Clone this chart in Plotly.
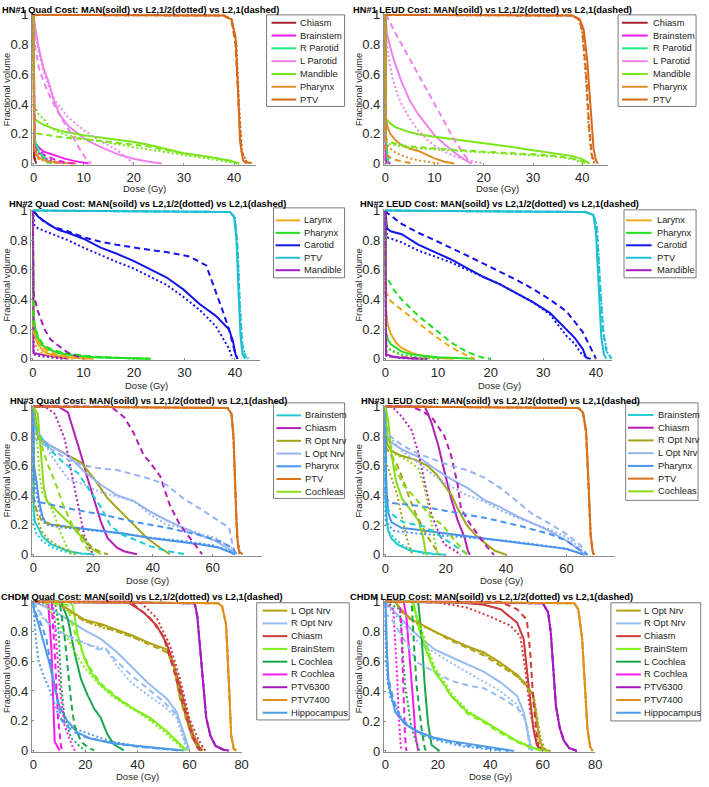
import plotly.graph_objects as go

# ---------------------------------------------------------------- data
# Each panel: structure -> {"solid": MAN, "dot": L2,1/2, "dash": L2,1} as (dose Gy, fractional volume)
HN1_QUAD = {
    "Chiasm": {"solid": [(0,1),(0.1,0.05),(0.5,0)], "dot": [(0,1),(0.1,0.04),(0.5,0)], "dash": [(0,1),(0.1,0.04),(0.5,0)]},
    "Brainstem": {"solid": [(0,1),(0.2,0.14),(1,0.11),(2,0.08),(4.3,0.055),(6,0.035),(8,0.018),(11,0)],
                  "dot": [(0,1),(0.2,0.1),(1,0.07),(2,0.04),(4,0.015),(6,0)],
                  "dash": [(0,1),(0.2,0.12),(1,0.09),(2,0.06),(4,0.03),(6,0.01),(8,0)]},
    "R Parotid": {"solid": [(0,1),(0.1,0.2),(0.5,0.12),(1,0.08),(2,0.04),(3,0.01),(3.5,0)],
                  "dot": [(0,1),(0.1,0.15),(1,0.1),(2,0.05),(3,0.015),(3.5,0)],
                  "dash": [(0,1),(0.1,0.18),(1,0.09),(2,0.04),(3,0)]},
    "L Parotid": {"solid": [(0,1),(0.3,0.92),(1,0.78),(2,0.64),(3,0.55),(4,0.43),(5.2,0.33),(7,0.25),(8.9,0.2),(11,0.15),(13.4,0.11),(17,0.06),(20,0.033),(23,0.012),(25.6,0)],
                  "dot": [(0,1),(0.3,0.88),(1,0.75),(2,0.62),(3,0.52),(4.3,0.42),(6.9,0.31),(10.2,0.22),(13.4,0.15),(16.7,0.09),(18.5,0.04),(20,0)],
                  "dash": [(0,1),(0.3,0.78),(1,0.65),(2,0.55),(3,0.47),(4.3,0.38),(6,0.28),(7.5,0.2),(9,0.11),(10.5,0.03),(11.5,0)]},
    "Mandible": {"solid": [(0,1),(0.1,0.3),(1,0.28),(2,0.26),(4,0.235),(6,0.215),(10,0.19),(15,0.17),(20,0.145),(22.5,0.13),(25,0.11),(30,0.07),(35,0.045),(39,0.02),(40.5,0.005),(41,0)],
                 "dot": [(0,1),(0.1,0.41),(0.5,0.37),(1,0.33),(2.3,0.29),(3,0.25),(5,0.21),(6.9,0.19),(10,0.165),(13.4,0.15),(20,0.11),(25,0.085),(30,0.055),(35,0.035),(40,0.01),(41,0)],
                 "dash": [(0,1),(0.1,0.21),(1,0.2),(3,0.19),(6,0.175),(10,0.165),(15,0.148),(20,0.127),(23,0.115),(25,0.1),(30,0.068),(35,0.045),(39,0.02),(40.5,0.005),(41,0)]},
    "Pharynx": {"solid": [(0,1),(0.15,0.1),(1,0.04),(3,0.015),(6,0.005),(8.5,0)],
                "dot": [(0,1),(0.15,0.08),(1,0.03),(3,0.01),(5,0)],
                "dash": [(0,1),(0.15,0.09),(1,0.035),(3,0.012),(6,0)]},
    "PTV": {"solid": [(0,1),(38,0.995),(39.5,0.97),(40.3,0.85),(40.8,0.5),(41.2,0.15),(41.8,0.02),(42.5,0)],
            "dot": [(0,1),(38,0.995),(39.5,0.97),(40.5,0.8),(41,0.4),(41.6,0.08),(42.5,0.01),(44,0)],
            "dash": [(0,1),(38,0.995),(39.5,0.96),(40.3,0.8),(40.9,0.4),(41.5,0.08),(42.5,0.01),(43.5,0)]},
}

HN1_LEUD = {
    "Chiasm": {"solid": [(0,1),(0.1,0.02),(0.3,0)], "dot": [(0,1),(0.1,0.02),(0.3,0)], "dash": [(0,1),(0.1,0.02),(0.3,0)]},
    "Brainstem": {"solid": [(0,1),(0.1,0.03),(0.5,0.01),(1,0)], "dot": [(0,1),(0.1,0.02),(1,0)], "dash": [(0,1),(0.1,0.02),(1,0)]},
    "R Parotid": {"solid": [(0,1),(0.1,0.21),(0.3,0.1),(0.6,0)], "dot": [(0,1),(0.1,0.15),(0.5,0)], "dash": [(0,1),(0.1,0.18),(0.5,0)]},
    "L Parotid": {"solid": [(0,1),(0.3,0.88),(1,0.78),(2,0.67),(3.3,0.55),(5,0.42),(6.7,0.33),(8.5,0.25),(10,0.19),(12,0.13),(13.4,0.09),(15,0.05),(16.7,0.015),(17.5,0)],
                  "dot": [(0,1),(0.3,0.8),(0.8,0.68),(1.5,0.57),(2.5,0.46),(3.3,0.4),(5,0.3),(6.7,0.22),(8.5,0.16),(10,0.12),(12,0.08),(14,0.05),(17,0.02),(20,0)],
                  "dash": [(0,1),(0.3,0.99),(2,0.88),(4,0.76),(6,0.65),(8,0.52),(10,0.4),(12,0.28),(14,0.16),(16,0.06),(17.5,0)]},
    "Mandible": {"solid": [(0,1),(0.1,0.3),(1,0.27),(2,0.245),(5,0.21),(7,0.195),(10,0.18),(15,0.16),(20,0.14),(25,0.115),(30,0.09),(35,0.065),(38,0.05),(40,0.03),(41,0.008),(41.5,0)],
                 "dot": [(0,1),(0.1,0.15),(1,0.13),(3,0.115),(5,0.105),(10,0.095),(15,0.085),(20,0.075),(25,0.068),(30,0.058),(35,0.045),(38,0.03),(40,0.01),(40.5,0)],
                 "dash": [(0,1),(0.1,0.17),(1,0.145),(3,0.125),(5,0.115),(10,0.1),(15,0.09),(20,0.08),(25,0.072),(30,0.062),(35,0.05),(38,0.035),(40,0.015),(41,0)]},
    "Pharynx": {"solid": [(0,1),(0.15,0.29),(0.5,0.24),(1,0.2),(2,0.16),(3,0.13),(5,0.1),(6.7,0.085),(8,0.065),(10,0.035),(12,0.012),(14,0)],
                "dot": [(0,1),(0.15,0.15),(0.7,0.11),(2,0.075),(3.3,0.055),(5,0.035),(7,0.02),(10,0.003),(11,0)],
                "dash": [(0,1),(0.15,0.06),(1,0.04),(2,0.025),(4,0.01),(6,0)]},
    "PTV": {"solid": [(0,1),(38,0.995),(39.5,0.97),(40.3,0.9),(41,0.7),(41.8,0.3),(42.3,0.1),(42.8,0.02),(43.2,0)],
            "dot": [(0,1),(38,0.995),(39.3,0.97),(40,0.88),(40.7,0.6),(41.3,0.25),(41.9,0.05),(42.5,0)],
            "dash": [(0,1),(38,0.995),(39.3,0.97),(40,0.9),(40.8,0.6),(41.4,0.25),(42,0.05),(42.6,0)]},
}

HN2_QUAD = {
    "Larynx": {"solid": [(0,1),(0.1,0.22),(0.5,0.14),(1,0.1),(2,0.055),(3,0.035),(5,0.02),(8,0.008),(12,0)],
               "dot": [(0,1),(0.1,0.12),(1,0.06),(2,0.035),(4,0.015),(8,0)],
               "dash": [(0,1),(0.1,0.18),(1,0.12),(2,0.08),(3,0.05),(5,0.025),(8,0.01),(11,0)]},
    "Pharynx": {"solid": [(0,1),(0.1,0.3),(0.5,0.2),(1,0.14),(2,0.09),(3,0.065),(5,0.04),(8,0.022),(12,0.01),(18,0.003),(23,0)],
                "dot": [(0,1),(0.1,0.26),(1,0.12),(2,0.08),(4,0.05),(7,0.03),(12,0.012),(18,0.004),(23,0)],
                "dash": [(0,1),(0.1,0.25),(1,0.15),(2,0.1),(3,0.075),(5,0.05),(8,0.03),(12,0.015),(18,0.005),(24,0)]},
    "Carotid": {"solid": [(0,1),(1,0.96),(3,0.91),(5,0.87),(6.9,0.85),(10,0.81),(13.4,0.75),(16.5,0.71),(19.9,0.66),(23,0.61),(26.4,0.55),(29.7,0.47),(33,0.37),(36.2,0.29),(38.8,0.2),(39.6,0.12),(40.1,0.03),(40.5,0)],
                "dot": [(0,1),(0.3,0.9),(1,0.88),(3.3,0.85),(6.9,0.8),(10,0.75),(13.4,0.7),(16.5,0.655),(19.9,0.61),(23,0.56),(26.4,0.5),(29.7,0.42),(33,0.33),(36.2,0.22),(38.8,0.07),(39.5,0)],
                "dash": [(0,1),(0.3,0.99),(2,0.93),(4,0.89),(6.9,0.86),(10,0.82),(13.4,0.79),(16.5,0.77),(19.9,0.75),(23,0.735),(26.4,0.72),(31,0.69),(34.3,0.63),(36.2,0.46),(37.5,0.33),(38.8,0.2),(40.1,0.03),(40.5,0)]},
    "PTV": {"solid": [(0,1),(39,0.99),(39.8,0.96),(40.3,0.8),(40.7,0.45),(41.1,0.15),(41.5,0.03),(42,0)],
            "dot": [(0,1),(39,0.99),(40,0.95),(40.6,0.7),(41,0.35),(41.5,0.1),(42,0.02),(42.7,0)],
            "dash": [(0,1),(39,0.99),(40,0.95),(40.5,0.75),(40.9,0.4),(41.4,0.1),(42,0.02),(42.5,0)]},
    "Mandible": {"solid": [(0,1),(0.1,0.04),(3,0.02),(5,0.01),(7,0)],
                 "dot": [(0,1),(0.15,0.03),(1,0.02),(3,0.01),(6,0)],
                 "dash": [(0,1),(0.1,0.45),(0.4,0.4),(1,0.32),(2.3,0.2),(3.5,0.13),(5,0.09),(7,0.04),(10,0)]},
}

HN2_LEUD = {
    "Larynx": {"solid": [(0,1),(0.1,0.35),(0.4,0.24),(1,0.17),(2,0.11),(3,0.075),(5,0.04),(7,0.02),(10,0.006),(13,0)],
               "dot": [(0,1),(0.1,0.1),(1,0.055),(3,0.025),(6,0.005),(8,0)],
               "dash": [(0,1),(0.1,0.45),(0.3,0.44),(1,0.39),(3.1,0.33),(6.25,0.24),(9.4,0.155),(12.5,0.077),(15.6,0.02),(17,0)]},
    "Pharynx": {"solid": [(0,1),(0.1,0.18),(0.5,0.13),(1,0.1),(3,0.05),(5,0.03),(10,0.01),(15,0.002),(17,0)],
                "dot": [(0,1),(0.1,0.09),(1,0.06),(3,0.03),(6,0.01),(10,0)],
                "dash": [(0,1),(0.1,0.56),(0.3,0.55),(1.5,0.47),(3.1,0.4),(6.25,0.29),(9.4,0.2),(12.5,0.11),(15.6,0.044),(18.75,0.005),(20,0)]},
    "Carotid": {"solid": [(0,1),(0.3,0.88),(1,0.86),(3.1,0.84),(6.25,0.77),(9.4,0.72),(12.5,0.67),(15.6,0.61),(18.75,0.55),(21.9,0.5),(25,0.44),(28.1,0.38),(31.25,0.31),(34.4,0.2),(36,0.14),(37.5,0.066),(38.1,0.01),(39,0)],
                "dot": [(0,1),(0.3,0.82),(3.1,0.785),(6.25,0.73),(9.4,0.69),(12.5,0.65),(15.6,0.6),(18.75,0.55),(21.9,0.5),(25,0.44),(28.1,0.38),(31.25,0.3),(34.4,0.155),(36,0.1),(37,0.044),(38.5,0)],
                "dash": [(0,1),(0.3,0.985),(3.1,0.91),(6.25,0.85),(9.4,0.8),(12.5,0.75),(15.6,0.695),(18.75,0.64),(21.9,0.585),(25,0.53),(28.1,0.47),(31.25,0.4),(34.4,0.32),(37.5,0.18),(39.4,0.045),(40,0)]},
    "PTV": {"solid": [(0,1),(38,0.99),(39.5,0.97),(40,0.85),(40.5,0.5),(41,0.15),(41.5,0.03),(42,0)],
            "dot": [(0,1),(38,0.99),(39.5,0.97),(40.2,0.9),(40.8,0.5),(41.5,0.15),(42.2,0.04),(43,0)],
            "dash": [(0,1),(38,0.99),(39.5,0.97),(40.1,0.9),(40.7,0.55),(41.3,0.2),(42,0.05),(43,0)]},
    "Mandible": {"solid": [(0,1),(0.15,0.03),(1,0.02),(2,0.01),(5,0.003),(8,0)],
                 "dot": [(0,1),(0.15,0.02),(1,0.015),(3,0.005),(8,0)],
                 "dash": [(0,1),(0.15,0.025),(1,0.015),(4,0.005),(7,0)]},
}

HN3_QUAD = {
    "Brainstem": {"solid": [(0,1),(0.1,0.3),(0.5,0.22),(1.65,0.18),(3,0.12),(6,0.067),(11.6,0.022),(16,0.005),(20,0)],
                  "dot": [(0,1),(0.1,0.2),(1,0.14),(3,0.09),(6,0.05),(10,0.02),(14,0)],
                  "dash": [(0,1),(0.1,0.9),(1,0.85),(3,0.78),(6,0.7),(10,0.62),(14.9,0.55),(18.7,0.44),(22.6,0.32),(25.9,0.19),(30,0.13),(35,0.09),(39,0.055),(45,0.02),(51,0)]},
    "Chiasm": {"solid": [(0,1),(8.3,1),(11.6,0.96),(13.8,0.82),(16,0.67),(18.2,0.51),(20.4,0.36),(22.6,0.22),(24.8,0.11),(28,0.044),(30.3,0.02),(34.7,0)],
               "dot": [(0,1),(3.9,1),(7.2,0.95),(10.5,0.78),(12.7,0.56),(14.9,0.33),(17,0.13),(19.3,0.02),(20.5,0)],
               "dash": [(0,1),(25.9,1),(30.3,0.93),(33.6,0.82),(36.9,0.67),(39.1,0.62),(42.4,0.53),(45.7,0.33),(49,0.2),(52.3,0.11),(55.6,0.02),(56.5,0)]},
    "R Opt Nrv": {"solid": [(0,1),(0.5,0.95),(1.65,0.78),(6,0.73),(11.6,0.67),(16,0.62),(20.4,0.51),(24.8,0.38),(29.2,0.29),(33.6,0.2),(38,0.11),(42.4,0.044),(45.7,0)],
                  "dot": [(0,1),(0.1,0.35),(1,0.3),(2,0.2),(3,0.15),(5,0.1),(8,0.06),(12,0.02),(15,0)],
                  "dash": [(0,1),(0.1,0.38),(1,0.3),(3,0.22),(6,0.2),(10,0.19),(14.9,0.17),(18,0.08),(20,0.04),(23,0.01),(25,0)]},
    "L Opt Nrv": {"solid": [(0,1),(0.5,0.82),(6,0.73),(11.6,0.67),(17,0.56),(22.6,0.47),(28,0.4),(33.6,0.36),(39,0.29),(44.6,0.23),(50,0.18),(55.6,0.13),(61,0.09),(66.6,0.02),(67.5,0)],
                  "dot": [(0,1),(0.5,0.87),(6,0.67),(11.6,0.51),(17,0.47),(22.6,0.42),(33.6,0.36),(39,0.27),(44.6,0.2),(50,0.18),(55.6,0.14),(61,0.11),(66.6,0.04),(67.5,0)],
                  "dash": [(0,1),(0.5,0.78),(6,0.71),(11.6,0.64),(17,0.6),(22.6,0.58),(28,0.57),(33.6,0.54),(39,0.51),(44.6,0.47),(50,0.38),(55.6,0.31),(61,0.24),(65.5,0.18),(66.6,0.07),(67.5,0)]},
    "Pharynx": {"solid": [(0,1),(0.1,0.62),(1,0.5),(2,0.35),(3,0.26),(3.9,0.22),(6,0.2),(10,0.19),(22.6,0.16),(30,0.14),(39,0.11),(47,0.09),(55.6,0.067),(62,0.045),(66.6,0.01),(67.5,0)],
                "dot": [(0,1),(0.1,0.55),(1,0.42),(2,0.3),(4,0.2),(10,0.18),(20,0.16),(30,0.14),(40,0.11),(50,0.09),(60,0.06),(66,0.02),(67,0)],
                "dash": [(0,1),(0.1,0.37),(0.5,0.36),(11.6,0.31),(22.6,0.27),(33.6,0.22),(44.6,0.18),(55.6,0.13),(62,0.09),(66.6,0.044),(68,0)]},
    "PTV": {"solid": [(0,1),(65,0.99),(66.3,0.95),(67,0.8),(67.5,0.5),(68,0.2),(68.5,0.05),(69,0)],
            "dot": [(0,1),(65,0.99),(66.3,0.95),(67,0.75),(67.6,0.4),(68.3,0.1),(69,0.02),(70,0)],
            "dash": [(0,1),(65,0.99),(66.3,0.95),(67,0.77),(67.6,0.42),(68.2,0.1),(69,0.02),(69.8,0)]},
    "Cochleas": {"solid": [(0,1),(1.5,0.95),(2.5,0.7),(3.5,0.45),(4.5,0.36),(7,0.31),(10,0.25),(13,0.19),(16,0.12),(18,0.07),(20,0.03),(22.6,0)],
                 "dot": [(0,1),(1,0.88),(2,0.55),(3,0.42),(5,0.35),(7,0.27),(9,0.15),(11,0.06),(12.7,0)],
                 "dash": [(0,1),(1,0.9),(3,0.72),(5,0.6),(8,0.45),(10,0.33),(13,0.2),(16,0.1),(18,0.04),(19.3,0)]},
}

HN3_LEUD = {
    "Brainstem": {"solid": [(0,1),(0.1,0.35),(0.5,0.22),(1,0.16),(2,0.11),(4,0.07),(8,0.03),(12,0.015),(16,0.005),(20,0)],
                  "dot": [(0,1),(0.1,0.22),(1,0.16),(3,0.11),(6,0.06),(10,0.025),(14,0)],
                  "dash": [(0,1),(0.1,0.33),(1,0.3),(3,0.26),(6,0.22),(10,0.2),(13,0.19),(16.4,0.15),(20,0.1),(23,0.06),(26,0.02),(28,0)]},
    "Chiasm": {"solid": [(0,1),(13.1,1),(15.3,0.89),(17.5,0.74),(19.6,0.56),(21.8,0.38),(24,0.23),(26.2,0.12),(27.3,0.03),(28,0)],
               "dot": [(0,1),(2.2,1),(5.5,0.93),(8.7,0.84),(10.9,0.69),(13.1,0.47),(15.3,0.27),(17.5,0.16),(19.6,0.07),(22.9,0.03),(25,0)],
               "dash": [(0,1),(8.7,1),(12,0.97),(15.3,0.93),(19.6,0.8),(21.8,0.67),(24,0.47),(25,0.32),(27.3,0.23),(30.5,0.14),(33.8,0.05),(36,0)]},
    "R Opt Nrv": {"solid": [(0,1),(0.5,0.75),(2,0.7),(5,0.67),(10,0.64),(14,0.6),(17,0.54),(20,0.46),(22,0.4),(24,0.31),(27,0.2),(30,0.13),(33,0.08),(36,0.03),(40,0)],
                  "dot": [(0,1),(0.3,0.62),(2,0.52),(4,0.4),(5,0.3),(6,0.2),(7,0.12),(8,0.05),(9,0)],
                  "dash": [(0,1),(0.3,0.72),(2,0.67),(4,0.6),(6,0.5),(8,0.38),(10,0.28),(12,0.2),(14,0.12),(16,0.06),(18,0)]},
    "L Opt Nrv": {"solid": [(0,1),(0.3,0.78),(5.5,0.71),(10.9,0.66),(16.4,0.58),(21.8,0.51),(27.3,0.45),(32.7,0.37),(38.2,0.32),(43.6,0.26),(49.1,0.21),(54.5,0.16),(60,0.095),(64.4,0.03),(66,0)],
                  "dot": [(0,1),(0.3,0.82),(5.5,0.7),(10.9,0.62),(16.4,0.53),(21.8,0.46),(27.3,0.4),(32.7,0.36),(38.2,0.3),(43.6,0.25),(49.1,0.21),(54.5,0.17),(60,0.12),(64.4,0.05),(66,0)],
                  "dash": [(0,1),(0.3,0.82),(5.5,0.74),(10.9,0.68),(16.4,0.64),(21.8,0.6),(27.3,0.57),(32.7,0.52),(38.2,0.45),(43.6,0.36),(49.1,0.27),(54.5,0.21),(60,0.14),(64.4,0.07),(67,0)]},
    "Pharynx": {"solid": [(0,1),(0.1,0.6),(0.5,0.4),(1,0.28),(2,0.22),(5.5,0.18),(10,0.17),(21.8,0.14),(30,0.12),(43.6,0.084),(50,0.07),(60,0.04),(66,0)],
                "dot": [(0,1),(0.1,0.25),(1,0.2),(3,0.16),(10,0.145),(20,0.13),(30,0.115),(40,0.095),(50,0.07),(60,0.04),(66,0)],
                "dash": [(0,1),(0.1,0.38),(2,0.35),(10.9,0.33),(21.8,0.29),(32.7,0.25),(43.6,0.2),(54.5,0.14),(60,0.095),(65,0.03),(67,0)]},
    "PTV": {"solid": [(0,1),(64,0.99),(65.5,0.96),(66.5,0.85),(67.3,0.5),(68,0.15),(68.6,0.03),(69,0)],
            "dot": [(0,1),(64,0.99),(65.5,0.96),(66.6,0.8),(67.4,0.45),(68.1,0.12),(68.8,0.02),(69.3,0)],
            "dash": [(0,1),(64,0.99),(65.5,0.96),(66.5,0.82),(67.3,0.47),(68,0.13),(68.7,0.02),(69.2,0)]},
    "Cochleas": {"solid": [(0,1),(1,0.9),(2,0.68),(3.5,0.5),(5.5,0.38),(8,0.31),(11,0.23),(12.5,0.12),(13.5,0)],
                 "dot": [(0,1),(0.5,0.8),(3,0.68),(8,0.63),(11,0.58),(13,0.45),(14.5,0.3),(16,0.12),(17,0.03),(17.5,0)],
                 "dash": [(0,1),(0.5,0.9),(1,0.8),(3,0.6),(6,0.47),(10,0.38),(15,0.26),(19,0.2),(22,0.12),(25,0.05),(27,0)]},
}

CHDM_QUAD = {
    "L Opt Nrv": {"solid": [(0,1),(8.2,1),(13.3,0.95),(19.6,0.88),(25.9,0.85),(32.2,0.81),(38.5,0.77),(44.9,0.72),(51.2,0.68),(53.7,0.59),(56.2,0.37),(58.8,0.22),(61.3,0.08),(63.8,0.005),(64.5,0)],
                  "dot": [(0,1),(8,1),(13.3,0.94),(19.6,0.87),(25.9,0.83),(32.2,0.8),(38.5,0.76),(44.9,0.72),(51.2,0.67),(53.7,0.6),(56.2,0.4),(58.8,0.25),(61.3,0.12),(63.8,0.03),(66,0)],
                  "dash": [(0,1),(8,1),(13.3,0.95),(19.6,0.87),(25.9,0.84),(32.2,0.8),(38.5,0.76),(44.9,0.71),(51.2,0.66),(53.7,0.58),(56.2,0.36),(58.8,0.2),(61.3,0.07),(63.8,0.005),(64.5,0)]},
    "R Opt Nrv": {"solid": [(0,1),(7,0.95),(13.3,0.88),(19.6,0.81),(25.9,0.75),(32.2,0.66),(38.5,0.55),(44.9,0.44),(51.2,0.35),(55,0.26),(57.5,0.13),(59.4,0.02),(60,0)],
                  "dot": [(0,1),(3,0.9),(8,0.82),(15,0.75),(20,0.72),(28,0.68),(32,0.57),(38,0.45),(45,0.36),(50,0.3),(55,0.22),(57,0.12),(58.5,0.03),(59.5,0)],
                  "dash": [(0,1),(3,0.92),(6,0.85),(10,0.8),(15,0.76),(20,0.72),(25,0.68),(28,0.68),(32,0.6),(38,0.5),(45,0.4),(50,0.33),(55,0.24),(57,0.15),(58.5,0.05),(59.5,0)]},
    "Chiasm": {"solid": [(0,1),(36,1),(42.3,0.93),(47.4,0.84),(51.2,0.72),(53.7,0.59),(56.2,0.44),(58.8,0.26),(61.3,0.11),(63.8,0.02),(65,0)],
               "dot": [(0,1),(41,1),(47.4,0.89),(52.4,0.71),(56.2,0.49),(60,0.21),(63.8,0.06),(66,0)],
               "dash": [(0,1),(37.3,1),(44.9,0.89),(49.9,0.77),(53.1,0.59),(55.6,0.44),(58.2,0.26),(60.7,0.11),(63,0.02),(64,0)]},
    "BrainStem": {"solid": [(0,1),(14,1),(15.2,0.97),(17,0.78),(19.6,0.62),(22,0.53),(25.9,0.44),(32.2,0.35),(38.5,0.28),(44.9,0.22),(51.2,0.13),(56.2,0.04),(58.8,0)],
                  "dot": [(0,1),(4,1),(6,0.95),(10,0.85),(13,0.76),(16,0.66),(20,0.55),(25,0.45),(30,0.37),(35,0.31),(40,0.26),(45,0.2),(50,0.13),(55,0.05),(58,0)],
                  "dash": [(0,1),(13,0.98),(15,0.85),(17,0.74),(19.6,0.63),(22,0.55),(25.9,0.45),(32.2,0.36),(38.5,0.28),(44.9,0.21),(51.2,0.13),(56.2,0.04),(58.5,0)]},
    "L Cochlea": {"solid": [(0,1),(10.7,1),(13.3,0.88),(15.8,0.66),(18.3,0.48),(20.9,0.37),(23.4,0.28),(25.9,0.22),(28.4,0.11),(31,0.04),(34.8,0)],
                  "dot": [(0,1),(8.5,0.98),(9.5,0.88),(10.7,0.44),(12,0.22),(14.5,0.085),(18.3,0.02),(20,0)],
                  "dash": [(0,1),(10.1,1),(12,0.77),(13.3,0.55),(14.5,0.33),(15.8,0.17),(18.3,0.06),(21,0.02),(23.4,0)]},
    "R Cochlea": {"solid": [(0,1),(5.7,1),(7,0.67),(7.6,0.33),(8.2,0.06),(10.1,0)],
                  "dot": [(0,1),(7.5,0.98),(8.2,0.88),(10.1,0.44),(12,0.17),(15.2,0.02),(16,0)],
                  "dash": [(0,1),(7,1),(8.2,0.67),(9.5,0.22),(10.7,0.02),(11.5,0)]},
    "PTV6300": {"solid": [(0,1),(62,0.99),(63,0.9),(64,0.7),(65,0.45),(66.4,0.22),(68,0.1),(70,0.03),(73,0.005),(75,0)],
                "dot": [(0,1),(62,0.99),(63,0.9),(64,0.7),(65,0.45),(66.4,0.22),(68,0.1),(70,0.03),(73,0.005),(75,0)],
                "dash": [(0,1),(62,0.99),(63,0.9),(64,0.7),(65,0.45),(66.4,0.22),(68,0.1),(70,0.03),(73,0.005),(75,0)]},
    "PTV7400": {"solid": [(0,1),(71,0.99),(72.5,0.97),(74,0.85),(75,0.5),(76,0.1),(77,0.01),(78,0)],
                "dot": [(0,1),(71,0.99),(72.5,0.97),(74,0.85),(75,0.5),(76,0.1),(77,0.01),(78,0)],
                "dash": [(0,1),(71,0.99),(72.5,0.97),(74,0.85),(75,0.5),(76,0.1),(77,0.01),(78,0)]},
    "Hippocampus": {"solid": [(0,1),(0.2,0.95),(2,0.85),(4,0.72),(6,0.6),(8,0.45),(10,0.3),(13,0.2),(17,0.12),(22,0.08),(30,0.05),(40,0.03),(50,0.015),(58,0)],
                    "dot": [(0,1),(0.2,0.92),(1,0.75),(2,0.6),(4,0.5),(6,0.42),(8,0.32),(10,0.22),(14,0.16),(20,0.12),(30,0.06),(40,0.03),(50,0.01),(56,0)],
                    "dash": [(0,1),(0.2,0.95),(3,0.85),(5,0.75),(7,0.55),(9,0.35),(11,0.2),(15,0.13),(20,0.09),(30,0.05),(40,0.025),(50,0.01),(57,0)]},
}

CHDM_LEUD = {
    "L Opt Nrv": {"solid": [(0,1),(3.8,1),(6,0.95),(10,0.88),(12.5,0.86),(18.8,0.8),(25,0.75),(31.3,0.7),(37.6,0.66),(43.9,0.59),(50.2,0.51),(53.9,0.44),(56.4,0.37),(57.7,0.22),(58.9,0.07),(60.2,0.01),(63,0)],
                  "dot": [(0,1),(3.8,1),(6,0.94),(10,0.87),(12.5,0.85),(18.8,0.8),(25,0.75),(31.3,0.7),(37.6,0.65),(43.9,0.58),(50.2,0.5),(53.9,0.44),(56.4,0.38),(57.7,0.25),(59,0.1),(60.5,0.02),(62,0)],
                  "dash": [(0,1),(3.8,1),(6,0.94),(10,0.88),(12.5,0.86),(18.8,0.8),(25,0.74),(31.3,0.69),(37.6,0.64),(43.9,0.57),(50.2,0.5),(53.9,0.43),(56.4,0.35),(57.7,0.2),(58.9,0.06),(60,0.01),(62,0)]},
    "R Opt Nrv": {"solid": [(0,1),(6.3,0.88),(12.5,0.77),(18.8,0.68),(25,0.63),(31.3,0.58),(37.6,0.53),(43.9,0.46),(50.2,0.37),(52.7,0.26),(53.9,0.15),(55.2,0.04),(56,0)],
                  "dot": [(0,1),(0.3,0.98),(6.3,0.86),(12.5,0.73),(25,0.59),(37.6,0.46),(43.9,0.4),(50.2,0.31),(53.9,0.18),(55.2,0.05),(56,0)],
                  "dash": [(0,1),(0.3,0.92),(2.5,0.88),(6.3,0.77),(12.5,0.59),(18.8,0.53),(25,0.47),(31.3,0.44),(37.6,0.42),(43.9,0.36),(50.2,0.29),(53.3,0.22),(54.5,0.09),(55,0)]},
    "Chiasm": {"solid": [(0,1),(25,1),(37.6,0.98),(43.9,0.95),(50.2,0.86),(52.7,0.75),(53.9,0.55),(55.2,0.33),(56.4,0.15),(57.7,0.04),(59.6,0)],
               "dot": [(0,1),(18.8,1),(31.3,0.96),(40,0.9),(47.6,0.84),(51.4,0.77),(53.3,0.55),(55.2,0.26),(57.7,0.07),(60,0)],
               "dash": [(0,1),(43.9,1),(50.2,0.95),(53.9,0.88),(55.2,0.66),(56.4,0.33),(57.7,0.11),(58.5,0)]},
    "BrainStem": {"solid": [(0,1),(10.7,1),(12.5,0.84),(15,0.7),(18.8,0.53),(22.6,0.44),(25,0.37),(31.3,0.26),(37.6,0.2),(43.9,0.13),(50.2,0.066),(56.4,0.02),(60,0.005),(62,0)],
                  "dot": [(0,1),(10,1),(12.5,0.88),(15,0.75),(18.8,0.56),(22.6,0.46),(25,0.39),(31.3,0.27),(37.6,0.2),(43.9,0.13),(50.2,0.066),(56.4,0.02),(61,0)],
                  "dash": [(0,1),(10,1),(12.5,0.86),(15,0.72),(18.8,0.54),(22.6,0.44),(25,0.37),(31.3,0.25),(37.6,0.19),(43.9,0.12),(50.2,0.06),(56.4,0.015),(60,0)]},
    "L Cochlea": {"solid": [(0,1),(12.5,1),(13.8,0.77),(15,0.44),(16.3,0.18),(17.6,0.04),(20.7,0)],
                  "dot": [(0,1),(5.5,0.95),(6.3,0.77),(7.5,0.44),(10,0.15),(12.5,0.02),(13,0)],
                  "dash": [(0,1),(10,1),(10.7,0.77),(11.9,0.44),(13.8,0.15),(15,0.02),(15.5,0)]},
    "R Cochlea": {"solid": [(0,1),(7,1),(8,0.9),(9.5,0.6),(10.5,0.35),(11.5,0.1),(12.5,0)],
                  "dot": [(0,1),(3,0.95),(3.5,0.8),(4.5,0.5),(5,0.25),(5.5,0.08),(6,0)],
                  "dash": [(0,1),(5.5,1),(6,0.85),(6.5,0.6),(7,0.35),(7.5,0.1),(8,0)]},
    "PTV6300": {"solid": [(0,1),(60,0.99),(62,0.93),(63,0.8),(64,0.55),(65,0.3),(66.5,0.15),(68,0.07),(70,0.02),(73,0)],
                "dot": [(0,1),(60,0.99),(62,0.93),(63,0.8),(64,0.55),(65,0.3),(66.5,0.15),(68,0.07),(70,0.02),(73,0)],
                "dash": [(0,1),(60,0.99),(62,0.93),(63,0.8),(64,0.55),(65,0.3),(66.5,0.15),(68,0.07),(70,0.02),(73,0)]},
    "PTV7400": {"solid": [(0,1),(72,0.99),(73.5,0.95),(75,0.75),(76,0.45),(77,0.15),(78,0.03),(79,0)],
                "dot": [(0,1),(72,0.99),(73.5,0.95),(75,0.75),(76,0.45),(77,0.15),(78,0.03),(79,0)],
                "dash": [(0,1),(72,0.99),(73.5,0.95),(75,0.75),(76,0.45),(77,0.15),(78,0.03),(79,0)]},
    "Hippocampus": {"solid": [(0,1),(0.3,0.9),(0.6,0.66),(1.3,0.44),(3.8,0.26),(7.5,0.18),(12.5,0.13),(18.8,0.088),(25,0.066),(37.6,0.033),(48.5,0.005),(49,0)],
                    "dot": [(0,1),(0.2,0.6),(1,0.45),(2,0.35),(4,0.3),(6,0.22),(10,0.15),(15,0.1),(20,0.07),(30,0.03),(40,0.01),(45,0)],
                    "dash": [(0,1),(0.2,0.8),(1,0.5),(3,0.35),(5,0.25),(8,0.18),(12,0.13),(20,0.08),(30,0.04),(40,0.015),(47,0)]},
}

TITLES = [
    "HN#1 Quad Cost: MAN(soild) vs L2,1/2(dotted) vs L2,1(dashed)",
    "HN#1 LEUD Cost: MAN(soild) vs L2,1/2(dotted) vs L2,1(dashed)",
    "HN#2 Quad Cost: MAN(soild) vs L2,1/2(dotted) vs L2,1(dashed)",
    "HN#2 LEUD Cost: MAN(soild) vs L2,1/2(dotted) vs L2,1(dashed)",
    "HN#3 Quad Cost: MAN(soild) vs L2,1/2(dotted) vs L2,1(dashed)",
    "HN#3 LEUD Cost: MAN(soild) vs L2,1/2(dotted) vs L2,1(dashed)",
    "CHDM Quad Cost: MAN(soild) vs L2,1/2(dotted) vs L2,1(dashed)",
    "CHDM LEUD Cost: MAN(soild) vs L2,1/2(dotted) vs L2,1(dashed)",
]
PANEL_DATA = [HN1_QUAD, HN1_LEUD, HN2_QUAD, HN2_LEUD, HN3_QUAD, HN3_LEUD, CHDM_QUAD, CHDM_LEUD]
X_TICKS_HN12 = [0, 10, 20, 30, 40]
X_TICKS_HN3 = [0, 20, 40, 60]
X_TICKS_CHDM = [0, 20, 40, 60, 80]
PANEL_XTICKS = [X_TICKS_HN12, X_TICKS_HN12, X_TICKS_HN12, X_TICKS_HN12, X_TICKS_HN3, X_TICKS_HN3, X_TICKS_CHDM, X_TICKS_CHDM]
Y_TICKS = [0, 0.2, 0.4, 0.6, 0.8, 1]
Y_TICK_TEXT = ["0", "0.2", "0.4", "0.6", "0.8", "1"]
X_LABEL = "Dose (Gy)"
Y_LABEL = "Fractional volume"

# ---------------------------------------------------------------- styles
COLORS_HN1 = {"Chiasm": "#A8202E", "Brainstem": "#F21AF2", "R Parotid": "#1AEB80", "L Parotid": "#EE82EE",
              "Mandible": "#7AE61A", "Pharynx": "#DC8E22", "PTV": "#D6691A"}
COLORS_HN2 = {"Larynx": "#EDA818", "Pharynx": "#22E022", "Carotid": "#1414EB", "PTV": "#1EBED2", "Mandible": "#A020BE"}
COLORS_HN3 = {"Brainstem": "#1ECCD2", "Chiasm": "#B41EB4", "R Opt Nrv": "#A3A31A", "L Opt Nrv": "#96B4F0",
              "Pharynx": "#4A92EE", "PTV": "#D9701A", "Cochleas": "#8CD91A"}
COLORS_CHDM = {"L Opt Nrv": "#B0A41A", "R Opt Nrv": "#96BCF0", "Chiasm": "#CC3A3A", "BrainStem": "#80EE1A",
               "L Cochlea": "#1AA64D", "R Cochlea": "#FF1AEB", "PTV6300": "#A619BF", "PTV7400": "#E0901A",
               "Hippocampus": "#4D9AEB"}
PANEL_COLORS = [COLORS_HN1, COLORS_HN1, COLORS_HN2, COLORS_HN2, COLORS_HN3, COLORS_HN3, COLORS_CHDM, COLORS_CHDM]
DASH = {"solid": "solid", "dot": "2px,2.5px", "dash": "6px,4px"}

W, H = 709, 787
FONT = "Liberation Sans, Arial, Helvetica, sans-serif"
AXIS_COLOR = "#8C8C8C"
TEXT_COLOR = "#262626"

# pixel geometry of each panel
GEOM = [
    dict(x0=32.0, ppu=5.075, xmax=44.4, y0=160.0, y1=9.0, tx=140, ty=4, lx=144.8, ly=185, yl=5,
         box=(268, 9, 347, 102), ll=(273, 298), lt=300, ly0=17, lstep=13.0),
    dict(x0=388.3, ppu=4.985, xmax=45.3, y0=160.0, y1=9.0, tx=497, ty=4, lx=502, ly=185, yl=361.5,
         box=(624, 9, 703, 102), ll=(628, 654), lt=657, ly0=17, lstep=13.0),
    dict(x0=31.3, ppu=5.117, xmax=44.9, y0=358.3, y1=207.7, tx=147, ty=201, lx=146.8, ly=385, yl=5,
         box=(275, 205, 347, 276), ll=(277, 302), lt=304, ly0=217.7, lstep=12.65),
    dict(x0=388.3, ppu=5.333, xmax=43.1, y0=358.3, y1=207.7, tx=504, ty=201.5, lx=504, ly=385, yl=361.5,
         box=(630, 207, 703, 276), ll=(632, 658), lt=661, ly0=217.7, lstep=12.65),
    dict(x0=31.7, ppu=3.028, xmax=76.5, y0=556.7, y1=406.7, tx=148.5, ty=400.7, lx=147.5, ly=583.3, yl=5,
         box=(275, 403, 347, 500), ll=(278, 303), lt=305, ly0=415.7, lstep=12.93),
    dict(x0=388.3, ppu=3.056, xmax=76.2, y0=557.3, y1=406.7, tx=504.5, ty=400.7, lx=505.8, ly=583.3, yl=361.5,
         box=(631.7, 403, 705, 502), ll=(634, 660), lt=662, ly0=415.3, lstep=12.93),
    dict(x0=31.7, ppu=2.6375, xmax=80.0, y0=756.0, y1=605.0, tx=141.5, ty=600, lx=137.5, ly=782.5, yl=5,
         box=(258, 606, 351.7, 725), ll=(264, 289), lt=291, ly0=614, lstep=12.96),
    dict(x0=388.3, ppu=2.658, xmax=80.0, y0=756.5, y1=605.0, tx=496, ty=600, lx=495, ly=782.5, yl=361.5,
         box=(616.7, 606, 707.7, 726), ll=(622, 647), lt=648.5, ly0=614, lstep=12.96),
]


def px(x):
    return x / W


def py(y):
    return 1 - y / H


fig = go.Figure()
layout = dict(
    width=W, height=H, margin=dict(l=0, r=0, t=0, b=0), showlegend=False,
    paper_bgcolor="white", plot_bgcolor="white", font=dict(family=FONT, color=TEXT_COLOR),
)
shapes = []
annotations = []
PAD = 1.5
TICKFONT = dict(size=13, color=TEXT_COLOR, family=FONT)

for i, (data, colors, g, title, xticks) in enumerate(zip(PANEL_DATA, PANEL_COLORS, GEOM, TITLES, PANEL_XTICKS), start=1):
    xa = "xaxis" if i == 1 else f"xaxis{i}"
    ya = "yaxis" if i == 1 else f"yaxis{i}"
    xr = "x" if i == 1 else f"x{i}"
    yr = "y" if i == 1 else f"y{i}"
    ppv = g["y0"] - g["y1"]
    left = g["x0"] - PAD
    right = g["x0"] + g["xmax"] * g["ppu"]
    bottom = g["y0"] + PAD
    top = g["y1"] - PAD
    layout[xa] = dict(domain=[px(left), px(right)], range=[-PAD / g["ppu"], g["xmax"]], anchor=yr,
                      showline=True, linecolor=AXIS_COLOR, linewidth=1, showgrid=False, zeroline=False,
                      ticks="inside", ticklen=2, tickcolor=AXIS_COLOR, tickvals=xticks,
                      ticktext=[str(t) for t in xticks], tickfont=TICKFONT, ticklabelstandoff=0)
    layout[ya] = dict(domain=[py(bottom), py(top)], range=[-PAD / ppv, 1 + PAD / ppv], anchor=xr,
                      showline=True, linecolor=AXIS_COLOR, linewidth=1, showgrid=False, zeroline=False,
                      ticks="inside", ticklen=2, tickcolor=AXIS_COLOR, tickvals=Y_TICKS, ticktext=Y_TICK_TEXT,
                      tickfont=TICKFONT, ticklabelstandoff=0)
    for style in ("solid", "dot", "dash"):
        for name, curves in data.items():
            pts = curves[style]
            fig.add_trace(go.Scatter(
                x=[p[0] for p in pts], y=[p[1] for p in pts], mode="lines", xaxis=xr, yaxis=yr,
                name=name, line=dict(color=colors[name], width=2, dash=DASH[style]),
                hoverinfo="skip", showlegend=False))
    annotations.append(dict(text=f"<b>{title}</b>", x=px(g["tx"]), y=py(g["ty"]), xref="paper", yref="paper",
                            showarrow=False, xanchor="center", yanchor="middle",
                            font=dict(size=9.3, color="#000000", family=FONT)))
    annotations.append(dict(text=X_LABEL, x=px(g["lx"]), y=py(g["ly"]), xref="paper", yref="paper",
                            showarrow=False, xanchor="center", yanchor="middle",
                            font=dict(size=9.5, color=TEXT_COLOR, family=FONT)))
    annotations.append(dict(text=Y_LABEL, x=px(g["yl"]), y=py((g["y0"] + g["y1"]) / 2), xref="paper", yref="paper",
                            showarrow=False, xanchor="center", yanchor="middle", textangle=-90,
                            font=dict(size=9.3, color=TEXT_COLOR, family=FONT)))
    bx0, by0, bx1, by1 = g["box"]
    shapes.append(dict(type="rect", xref="paper", yref="paper", x0=px(bx0), x1=px(bx1), y0=py(by1), y1=py(by0),
                       line=dict(color="#7A7A7A", width=1), fillcolor="white", layer="above"))
    for k, name in enumerate(data.keys()):
        yy = g["ly0"] + k * g["lstep"]
        shapes.append(dict(type="line", xref="paper", yref="paper", x0=px(g["ll"][0]), x1=px(g["ll"][1]),
                           y0=py(yy), y1=py(yy), line=dict(color=colors[name], width=2), layer="above"))
        annotations.append(dict(text=name, x=px(g["lt"]), y=py(yy), xref="paper", yref="paper",
                                showarrow=False, xanchor="left", yanchor="middle",
                                font=dict(size=9.3, color="#1A1A1A", family=FONT)))

layout["shapes"] = shapes
layout["annotations"] = annotations
fig.update_layout(**layout)
fig.write_html("out.html", include_plotlyjs=True, full_html=True,
               config={"displayModeBar": False},
               post_script="document.body.style.margin='0';document.body.style.overflow='hidden';")
